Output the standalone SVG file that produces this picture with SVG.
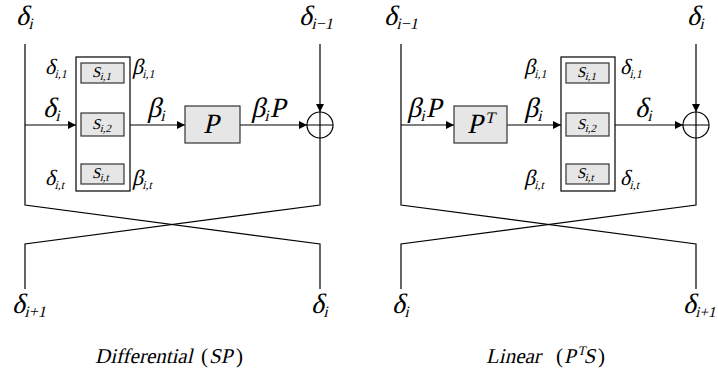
<svg xmlns="http://www.w3.org/2000/svg" width="718" height="376" viewBox="0 0 718 376">
<style>
text{font-family:'Liberation Serif','Times New Roman',serif;font-style:normal;fill:#000}
.i{font-size:28px}
.m{font-size:22px}
.si{font-size:16px}
.sm{font-size:12px}
.sbt{font-size:15px}
.ss{font-size:11px}
.cap{font-size:21px}
.ln{stroke:#000;stroke-width:1.2;fill:none}
.box{fill:#fff;stroke:#000;stroke-width:1.2}
.sb{fill:#e6e6e6;stroke:#333;stroke-width:1.2}
</style>
<defs>
<marker id="ah" viewBox="0 0 10 10" refX="10" refY="5" markerWidth="9" markerHeight="8" markerUnits="userSpaceOnUse" orient="auto"><path d="M0,0 L10,5 L0,10 z" fill="#000"/></marker>
</defs>

<g id="connectors">
<path class="ln" d="M25,44 V205 L320,244 V289"/>
<path class="ln" d="M320,138 V205 L25,244 V289"/>
<path class="ln" d="M25,125 H76" marker-end="url(#ah)"/>
<path class="ln" d="M130,125 H185" marker-end="url(#ah)"/>
<path class="ln" d="M240,125 H307" marker-end="url(#ah)"/>
<path class="ln" d="M320,44 V112" marker-end="url(#ah)"/>
<path class="ln" d="M401,44 V205 L696,244 V289"/>
<path class="ln" d="M696,138 V205 L401,244 V289"/>
<path class="ln" d="M401,125 H454" marker-end="url(#ah)"/>
<path class="ln" d="M507,125 H561" marker-end="url(#ah)"/>
<path class="ln" d="M615,125 H683" marker-end="url(#ah)"/>
<path class="ln" d="M696,44 V112" marker-end="url(#ah)"/>
</g>

<g id="sbox-left">
<rect class="box" x="76" y="57" width="54" height="134"/>
<rect class="sb" x="81" y="63" width="43" height="20"/>
<text class="sbt" transform="translate(92,77) skewX(-13)">S<tspan class="ss" dy="3">i,1</tspan></text>
<rect class="sb" x="81" y="113" width="43" height="23"/>
<text class="sbt" transform="translate(92,129) skewX(-13)">S<tspan class="ss" dy="3">i,2</tspan></text>
<rect class="sb" x="81" y="164" width="43" height="20"/>
<text class="sbt" transform="translate(92,178) skewX(-13)">S<tspan class="ss" dy="3">i,t</tspan></text>
</g>
<g id="p-left">
<rect class="sb" x="185" y="106" width="55" height="37"/>
<text font-size="28" transform="translate(203,133) skewX(-13)">P</text>
</g>
<g id="xor-left">
<circle cx="320" cy="125" r="13" fill="#fff" stroke="#000" stroke-width="1.2"/>
<path class="ln" d="M307,125 H333 M320,112 V138"/>
</g>
<g id="labels-left">
<text class="i" transform="translate(16,25) skewX(-13)">δ<tspan class="si" dy="4">i</tspan></text>
<text class="i" transform="translate(299,25) skewX(-13)">δ<tspan class="si" dy="4">i−1</tspan></text>
<text class="m" transform="translate(45,74) skewX(-13)">δ<tspan class="sm" dy="4">i,1</tspan></text>
<text class="m" transform="translate(132,74) skewX(-13)">β<tspan class="sm" dy="4">i,1</tspan></text>
<text class="i" transform="translate(43,117) skewX(-13)">δ<tspan class="si" dy="4">i</tspan></text>
<text class="i" transform="translate(147,117) skewX(-13)">β<tspan class="si" dy="4">i</tspan></text>
<text class="i" transform="translate(251,117) skewX(-13)">β<tspan class="si" dy="4">i</tspan><tspan dy="-4">P</tspan></text>
<text class="m" transform="translate(45,185) skewX(-13)">δ<tspan class="sm" dy="4">i,t</tspan></text>
<text class="m" transform="translate(132,185) skewX(-13)">β<tspan class="sm" dy="4">i,t</tspan></text>
<text class="i" transform="translate(12,313) skewX(-13)">δ<tspan class="si" dy="4">i+1</tspan></text>
<text class="i" transform="translate(311,313) skewX(-13)">δ<tspan class="si" dy="4">i</tspan></text>
<text class="cap" transform="translate(95,363) skewX(-13)">Differential</text>
<text class="cap" x="201" y="363">(</text>
<text class="cap" transform="translate(209,363) skewX(-13)">SP</text>
<text class="cap" x="236" y="363">)</text>
</g>

<g id="pt-right">
<rect class="sb" x="454" y="106" width="53" height="37"/>
<text font-size="28" transform="translate(467,133) skewX(-13)">P<tspan font-size="16" dy="-10">T</tspan></text>
</g>
<g id="sbox-right">
<rect class="box" x="561" y="57" width="54" height="134"/>
<rect class="sb" x="566" y="63" width="43" height="20"/>
<text class="sbt" transform="translate(577,77) skewX(-13)">S<tspan class="ss" dy="3">i,1</tspan></text>
<rect class="sb" x="566" y="113" width="43" height="23"/>
<text class="sbt" transform="translate(577,129) skewX(-13)">S<tspan class="ss" dy="3">i,2</tspan></text>
<rect class="sb" x="566" y="164" width="43" height="20"/>
<text class="sbt" transform="translate(577,178) skewX(-13)">S<tspan class="ss" dy="3">i,t</tspan></text>
</g>
<g id="xor-right">
<circle cx="696" cy="125" r="13" fill="#fff" stroke="#000" stroke-width="1.2"/>
<path class="ln" d="M683,125 H709 M696,112 V138"/>
</g>
<g id="labels-right">
<text class="i" transform="translate(384,25) skewX(-13)">δ<tspan class="si" dy="4">i−1</tspan></text>
<text class="i" transform="translate(687,25) skewX(-13)">δ<tspan class="si" dy="4">i</tspan></text>
<text class="i" transform="translate(407,117) skewX(-13)">β<tspan class="si" dy="4">i</tspan><tspan dy="-4">P</tspan></text>
<text class="i" transform="translate(524,117) skewX(-13)">β<tspan class="si" dy="4">i</tspan></text>
<text class="i" transform="translate(635,117) skewX(-13)">δ<tspan class="si" dy="4">i</tspan></text>
<text class="m" transform="translate(524,74) skewX(-13)">β<tspan class="sm" dy="4">i,1</tspan></text>
<text class="m" transform="translate(620,74) skewX(-13)">δ<tspan class="sm" dy="4">i,1</tspan></text>
<text class="m" transform="translate(524,185) skewX(-13)">β<tspan class="sm" dy="4">i,t</tspan></text>
<text class="m" transform="translate(620,185) skewX(-13)">δ<tspan class="sm" dy="4">i,t</tspan></text>
<text class="i" transform="translate(392,313) skewX(-13)">δ<tspan class="si" dy="4">i</tspan></text>
<text class="i" transform="translate(683,313) skewX(-13)">δ<tspan font-size="15" dy="4">i+1</tspan></text>
<text class="cap" transform="translate(486,363) skewX(-13)">Linear</text>
<text class="cap" x="556" y="363">(</text>
<text class="cap" transform="translate(564,363) skewX(-13)">P<tspan font-size="13" dy="-8">T</tspan><tspan dy="8">S</tspan></text>
<text class="cap" x="598" y="363">)</text>
</g>
</svg>
